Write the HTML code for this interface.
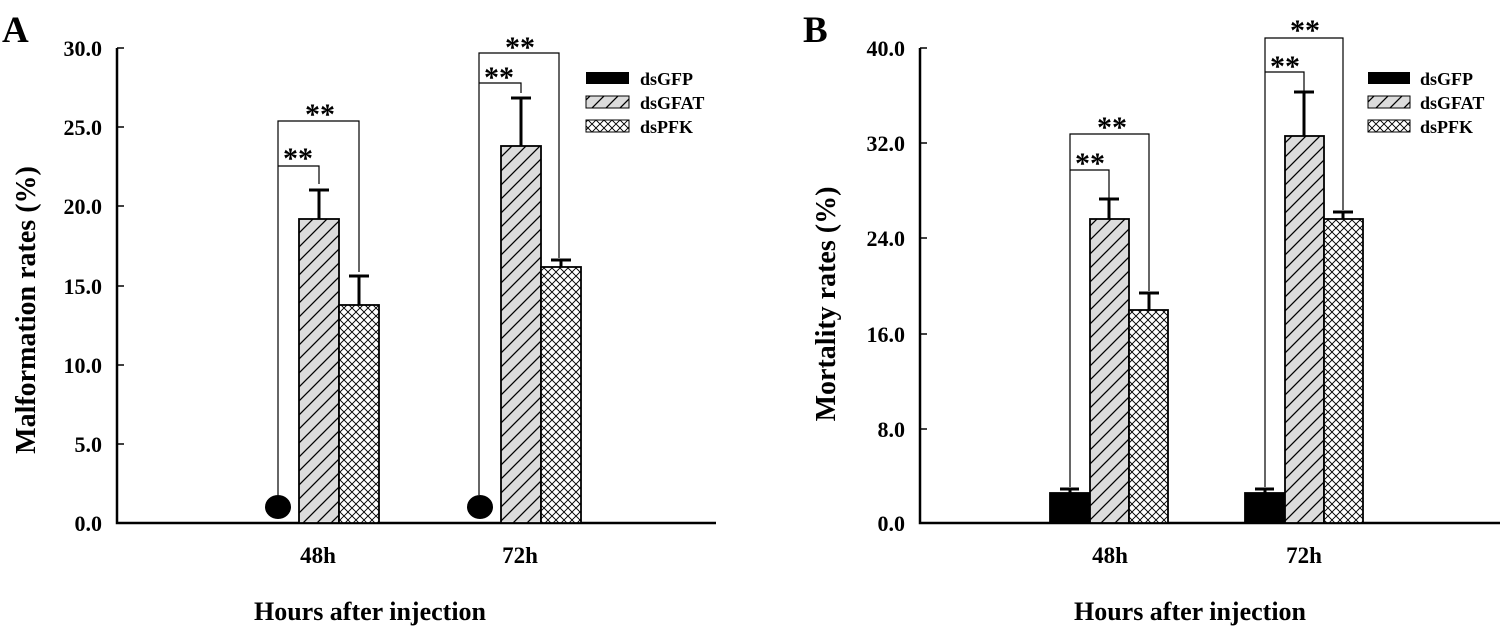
<!DOCTYPE html>
<html><head><meta charset="utf-8"><style>
html,body{margin:0;padding:0;background:#fff}
svg{display:block}
text{font-family:"Liberation Serif",serif;font-weight:bold;fill:#000}
</style></head><body>
<svg width="1502" height="632" viewBox="0 0 1502 632" xmlns="http://www.w3.org/2000/svg">
<defs>
<pattern id="hatch" width="14" height="14" patternUnits="userSpaceOnUse">
<rect width="14" height="14" fill="#dcdcdc"/>
<path d="M-2,16 L16,-2 M-9,9 L9,-9 M5,23 L23,5" stroke="#000" stroke-width="1.3"/>
</pattern>
<pattern id="cross" width="8" height="8" patternUnits="userSpaceOnUse">
<rect width="8" height="8" fill="#fff"/>
<path d="M0,4 L4,0 L8,4 L4,8 Z" fill="none" stroke="#000" stroke-width="0.9"/>
</pattern>
</defs>

<!-- Panel A -->
<text x="2" y="42" font-size="37">A</text>
<path d="M117,48 V523 H716" stroke="#000" stroke-width="2.5" fill="none"/>
<g stroke="#000" stroke-width="1.5">
<line x1="117" y1="48" x2="124" y2="48"/><line x1="117" y1="127" x2="124" y2="127"/>
<line x1="117" y1="206" x2="124" y2="206"/><line x1="117" y1="286" x2="124" y2="286"/>
<line x1="117" y1="365" x2="124" y2="365"/><line x1="117" y1="444" x2="124" y2="444"/>
</g>
<g font-size="22" text-anchor="end">
<text x="102" y="56">30.0</text><text x="102" y="135">25.0</text>
<text x="102" y="214">20.0</text><text x="102" y="294">15.0</text>
<text x="102" y="373">10.0</text><text x="102" y="452">5.0</text>
<text x="102" y="531">0.0</text>
</g>
<text transform="translate(35,310) rotate(-90)" font-size="28" text-anchor="middle">Malformation rates (%)</text>
<text x="318" y="563" font-size="23" text-anchor="middle">48h</text>
<text x="520" y="563" font-size="23" text-anchor="middle">72h</text>
<text x="370" y="620" font-size="26" text-anchor="middle">Hours after injection</text>

<ellipse cx="278" cy="507" rx="13" ry="12" fill="#000"/>
<ellipse cx="480" cy="507" rx="13" ry="12" fill="#000"/>
<g stroke="#000" stroke-width="1.8">
<rect x="299" y="219" width="40" height="304" fill="url(#hatch)"/>
<rect x="339" y="305" width="40" height="218" fill="url(#cross)"/>
<rect x="501" y="146" width="40" height="377" fill="url(#hatch)"/>
<rect x="541" y="267" width="40" height="256" fill="url(#cross)"/>
</g>
<g stroke="#000" stroke-width="3">
<path d="M319,219 V190 M309,190 H329"/><path d="M359,305 V276 M349,276 H369"/>
<path d="M521,146 V98 M511,98 H531"/><path d="M561,267 V260 M551,260 H571"/>
</g>
<g stroke="#000" stroke-width="1.2" fill="none">
<path d="M278,495 V121 H359 V272"/><path d="M278,166 H319 V184"/>
<path d="M479,495 V53 H559 V258"/><path d="M479,83 H521 V93"/>
</g>
<g font-size="30" text-anchor="middle">
<text x="298" y="168">**</text><text x="320" y="124">**</text>
<text x="499" y="87">**</text><text x="520" y="57">**</text>
</g>
<rect x="586" y="72" width="43" height="12" fill="#000"/>
<rect x="586" y="96" width="43" height="12" fill="url(#hatch)" stroke="#000" stroke-width="1"/>
<rect x="586" y="120" width="43" height="12" fill="url(#cross)" stroke="#000" stroke-width="1"/>
<g font-size="18"><text x="640" y="85">dsGFP</text><text x="640" y="109">dsGFAT</text><text x="640" y="133">dsPFK</text></g>

<!-- Panel B -->
<text x="803" y="42" font-size="37">B</text>
<path d="M920,48 V523 H1500" stroke="#000" stroke-width="2.5" fill="none"/>
<g stroke="#000" stroke-width="1.5">
<line x1="920" y1="48" x2="927" y2="48"/><line x1="920" y1="143" x2="927" y2="143"/>
<line x1="920" y1="238" x2="927" y2="238"/><line x1="920" y1="334" x2="927" y2="334"/>
<line x1="920" y1="429" x2="927" y2="429"/>
</g>
<g font-size="22" text-anchor="end">
<text x="905" y="56">40.0</text><text x="905" y="151">32.0</text>
<text x="905" y="246">24.0</text><text x="905" y="342">16.0</text>
<text x="905" y="437">8.0</text><text x="905" y="531">0.0</text>
</g>
<text transform="translate(835,304) rotate(-90)" font-size="28" text-anchor="middle">Mortality rates (%)</text>
<text x="1110" y="563" font-size="23" text-anchor="middle">48h</text>
<text x="1304" y="563" font-size="23" text-anchor="middle">72h</text>
<text x="1190" y="620" font-size="26" text-anchor="middle">Hours after injection</text>

<g stroke="#000" stroke-width="1.8">
<rect x="1050" y="493" width="40" height="30" fill="#000"/>
<rect x="1090" y="219" width="39" height="304" fill="url(#hatch)"/>
<rect x="1129" y="310" width="39" height="213" fill="url(#cross)"/>
<rect x="1245" y="493" width="40" height="30" fill="#000"/>
<rect x="1285" y="136" width="39" height="387" fill="url(#hatch)"/>
<rect x="1324" y="219" width="39" height="304" fill="url(#cross)"/>
</g>
<g stroke="#000" stroke-width="3">
<path d="M1070,493 V489 M1060,489 H1079"/><path d="M1265,493 V489 M1255,489 H1274"/>
<path d="M1109,219 V199 M1099,199 H1119"/><path d="M1149,310 V293 M1139,293 H1159"/>
<path d="M1304,136 V92 M1294,92 H1314"/><path d="M1343,219 V212 M1333,212 H1353"/>
</g>
<g stroke="#000" stroke-width="1.2" fill="none">
<path d="M1070,487 V134 H1149 V291"/><path d="M1070,170 H1109 V198"/>
<path d="M1265,487 V38 H1343 V210"/><path d="M1265,72 H1304 V91"/>
</g>
<g font-size="30" text-anchor="middle">
<text x="1090" y="173">**</text><text x="1112" y="137">**</text>
<text x="1285" y="76">**</text><text x="1305" y="40">**</text>
</g>
<rect x="1368" y="72" width="42" height="12" fill="#000"/>
<rect x="1368" y="96" width="42" height="12" fill="url(#hatch)" stroke="#000" stroke-width="1"/>
<rect x="1368" y="120" width="42" height="12" fill="url(#cross)" stroke="#000" stroke-width="1"/>
<g font-size="18"><text x="1420" y="85">dsGFP</text><text x="1420" y="109">dsGFAT</text><text x="1420" y="133">dsPFK</text></g>
</svg>
</body></html>
